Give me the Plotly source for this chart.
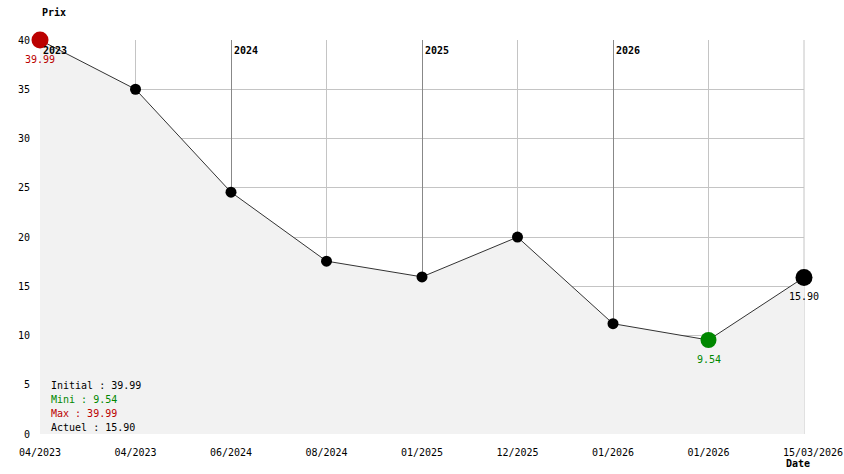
import plotly.graph_objects as go

dates = ["04/2023", "04/2023", "06/2024", "08/2024", "01/2025", "12/2025", "01/2026", "01/2026", "15/03/2026"]
prices = [39.99, 35.0, 24.55, 17.55, 15.95, 19.99, 11.2, 9.54, 15.90]
year_labels = ["2023", "2024", "2025", "2026"]
year_positions = [0, 2, 4, 6]
stats_lines = [("Initial : 39.99", "#000000"), ("Mini : 9.54", "#008800"),
               ("Max : 39.99", "#bb0000"), ("Actuel : 15.90", "#000000")]

FONT = "DejaVu Sans Mono, Liberation Mono, monospace"
x = list(range(len(prices)))
imax = prices.index(max(prices))
imin = prices.index(min(prices))
ilast = len(prices) - 1

# last tick label sits right of its tick as in the original
ticktext = dates[:-1] + ["\u00a0\u00a0\u00a0" + dates[-1]]

W, H = 844, 474
ML, MR, MT, MB = 40, 40, 40, 40

fig = go.Figure()

# dummy trace so the overlaid year-grid axis exists
fig.add_trace(go.Scatter(x=[], y=[], xaxis="x2", yaxis="y", showlegend=False, hoverinfo="skip"))

fig.add_trace(go.Scatter(x=x, y=prices, mode="lines", fill="tozeroy",
                         fillcolor="#f2f2f2", line=dict(color="#333333", width=1),
                         hoverinfo="skip", showlegend=False, cliponaxis=False))

normal = [i for i in x if i not in (imax, imin, ilast)]
fig.add_trace(go.Scatter(x=normal, y=[prices[i] for i in normal], mode="markers",
                         marker=dict(color="black", size=11), hoverinfo="skip",
                         showlegend=False, cliponaxis=False))
fig.add_trace(go.Scatter(x=[imax], y=[prices[imax]], mode="markers",
                         marker=dict(color="#bb0000", size=17), hoverinfo="skip",
                         showlegend=False, cliponaxis=False))
fig.add_trace(go.Scatter(x=[imin], y=[prices[imin]], mode="markers",
                         marker=dict(color="#008800", size=16), hoverinfo="skip",
                         showlegend=False, cliponaxis=False))
fig.add_trace(go.Scatter(x=[ilast], y=[prices[ilast]], mode="markers",
                         marker=dict(color="black", size=17), hoverinfo="skip",
                         showlegend=False, cliponaxis=False))

ann = []
for lbl, xp in zip(year_labels, year_positions):
    ann.append(dict(x=xp, y=1, xref="x", yref="paper", text="<b>" + lbl + "</b>",
                    showarrow=False, xanchor="left", yanchor="top", xshift=1, yshift=-3,
                    font=dict(family=FONT, size=10, color="black")))
for i, col in ((imax, "#bb0000"), (imin, "#008800"), (ilast, "#000000")):
    ann.append(dict(x=i, y=prices[i], xref="x", yref="y", text=f"{prices[i]:.2f}",
                    showarrow=False, xanchor="center", yanchor="middle", yshift=-19,
                    font=dict(family=FONT, size=10, color=col)))
for k, (t, col) in enumerate(stats_lines):
    ann.append(dict(x=0, y=0, xref="x", yref="y", text=t, showarrow=False,
                    xanchor="left", yanchor="middle", xshift=9, yshift=49 - 14 * k,
                    font=dict(family=FONT, size=10, color=col)))
ann.append(dict(x=0, y=1, xref="paper", yref="paper", text="<b>Prix</b>", showarrow=False,
                xanchor="left", yanchor="middle", yshift=28,
                font=dict(family=FONT, size=10, color="black")))
ann.append(dict(x=1, y=0, xref="paper", yref="paper", text="<b>Date</b>", showarrow=False,
                xanchor="center", yanchor="middle", yshift=-29, xshift=-6,
                font=dict(family=FONT, size=10, color="black")))

fig.update_layout(
    width=W, height=H, autosize=False,
    margin=dict(l=ML, r=MR, t=MT, b=MB, autoexpand=False),
    paper_bgcolor="white", plot_bgcolor="white",
    font=dict(family=FONT, size=10, color="black"),
    annotations=ann,
    xaxis=dict(range=[0, len(prices) - 1], tickmode="array", tickvals=x, ticktext=ticktext,
               showgrid=True, gridcolor="#c4c4c4", gridwidth=1, zeroline=False, automargin=False,
               showline=False, ticks="", ticklabelstandoff=11, fixedrange=True),
    xaxis2=dict(range=[0, len(prices) - 1], overlaying="x", anchor="y", side="bottom",
                tickmode="array", tickvals=year_positions, showticklabels=False, automargin=False,
                showgrid=True, gridcolor="#888888", gridwidth=1, zeroline=False,
                showline=False, ticks="", fixedrange=True),
    yaxis=dict(range=[0, 40], tickmode="array", tickvals=[0, 5, 10, 15, 20, 25, 30, 35, 40],
               showgrid=True, gridcolor="#c4c4c4", gridwidth=1, zeroline=False, automargin=False,
               showline=False, ticks="", ticklabelstandoff=9, fixedrange=True),
)
fig.add_shape(type="line", x0=1, x1=1, y0=0, y1=1, xref="paper", yref="paper",
              line=dict(color="#c4c4c4", width=1), layer="below")

fig.write_html("out.html", config={"displayModeBar": False},
               post_script="document.body.style.margin='0';document.body.style.overflow='hidden';")
